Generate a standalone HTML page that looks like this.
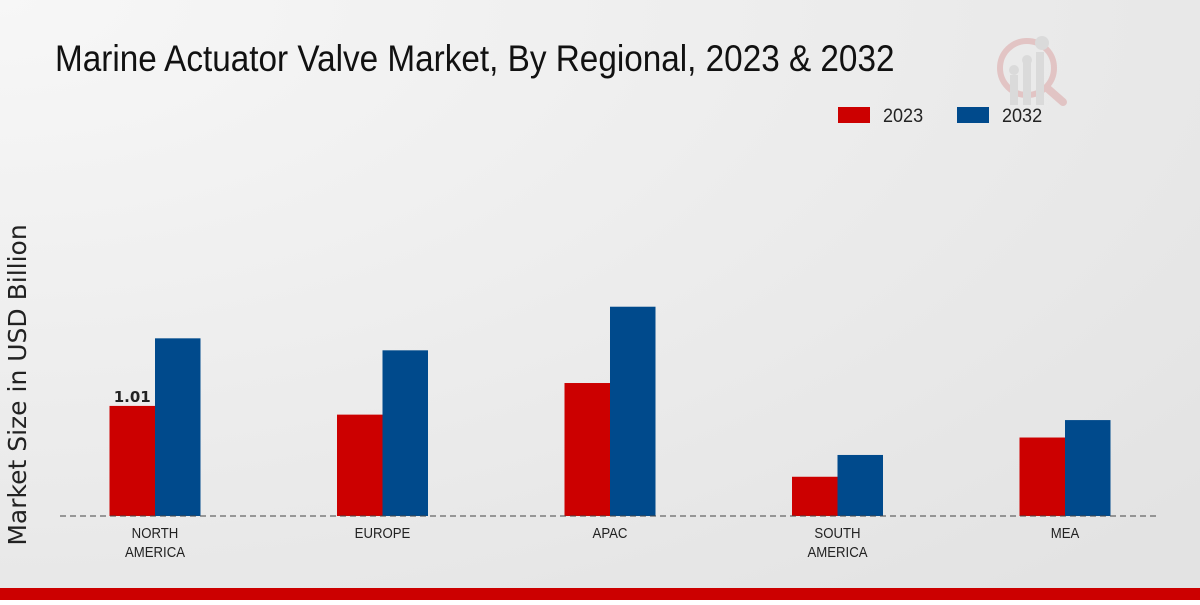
<!DOCTYPE html>
<html><head><meta charset="utf-8"><style>
body{margin:0;width:1200px;height:600px;overflow:hidden;font-family:"Liberation Sans",sans-serif}
</style></head><body>
<svg width="1200" height="600" xmlns="http://www.w3.org/2000/svg">
<defs><radialGradient id="bg" cx="0" cy="0" r="1.3"><stop offset="0" stop-color="#f7f7f7"/><stop offset="1" stop-color="#e3e3e3"/></radialGradient></defs>
<rect width="1200" height="600" fill="url(#bg)"/>
<text x="55" y="71" font-size="37" fill="#111" transform="translate(55,0) scale(0.9,1) translate(-55,0)">Marine Actuator Valve Market, By Regional, 2023 &amp; 2032</text>
<g opacity="0.5">
<circle cx="1027" cy="68" r="27" fill="none" stroke="#dba0a0" stroke-width="6"/>
<line x1="1047" y1="88" x2="1063" y2="102" stroke="#dba0a0" stroke-width="8" stroke-linecap="round"/>
<rect x="1010" y="75" width="8" height="30" fill="#ccc"/><rect x="1023" y="62" width="8" height="43" fill="#ccc"/><rect x="1036" y="52" width="8" height="53" fill="#ccc"/>
<circle cx="1014" cy="70" r="5" fill="#ccc"/><circle cx="1027" cy="60" r="5" fill="#ccc"/><circle cx="1042" cy="43" r="7" fill="#ccc"/>
</g>
<g>
<rect x="838" y="107" width="32" height="16" fill="#cc0000"/>
<text x="883" y="122" font-size="19" fill="#222" transform="translate(883,0) scale(0.95,1) translate(-883,0)">2023</text>
<rect x="957" y="107" width="32" height="16" fill="#004a8c"/>
<text x="1002" y="122" font-size="19" fill="#222" transform="translate(1002,0) scale(0.95,1) translate(-1002,0)">2032</text>
</g>
<text transform="translate(26,385) rotate(-90)" text-anchor="middle" font-size="25" font-family="DejaVu Sans, sans-serif" fill="#222">Market Size in USD Billion</text>
<g id="bars"></g>
<line x1="60" y1="516" x2="1160" y2="516" stroke="#444" stroke-dasharray="6,4"/>
<rect x="0" y="588" width="1200" height="12" fill="#cc0000"/>
</svg>
<script>
const categories=[["NORTH","AMERICA"],["EUROPE"],["APAC"],["SOUTH","AMERICA"],["MEA"]];
const values2023=[1.01,0.93,1.22,0.36,0.72];
const values2032=[1.63,1.52,1.92,0.56,0.88];
const labelShown=[true,false,false,false,false];
const ns="http://www.w3.org/2000/svg";
const g=document.getElementById('bars');
const base=516,scale=109,bw=45.5;
const xc=i=>155+i*227.5;
const y=v=>base-v*scale;
function mk(tag,a){const e=document.createElementNS(ns,tag);for(const k in a)e.setAttribute(k,a[k]);g.appendChild(e);return e;}
categories.forEach((c,i)=>{
 const r=mk('rect',{x:xc(i)-bw,y:y(values2023[i]),width:bw,height:base-y(values2023[i]),fill:'#cc0000'});
 
 
 const b=mk('rect',{x:xc(i),y:y(values2032[i]),width:bw,height:base-y(values2032[i]),fill:'#004a8c'});
 
 
 if(labelShown[i]){const t=mk('text',{x:xc(i)-bw/2,y:y(values2023[i])-4,'text-anchor':'middle','font-size':15,'font-weight':'bold','font-family':'DejaVu Sans, sans-serif',fill:'#222'});t.textContent=values2023[i].toFixed(2);
 
 }
 c.forEach((line,j)=>{const t=mk('text',{x:xc(i),y:538+j*19,'text-anchor':'middle','font-size':15,fill:'#222',transform:`translate(${xc(i)},0) scale(0.88,1) translate(${-xc(i)},0)`});t.textContent=line;
 
 });
});
</script>
</body></html>
